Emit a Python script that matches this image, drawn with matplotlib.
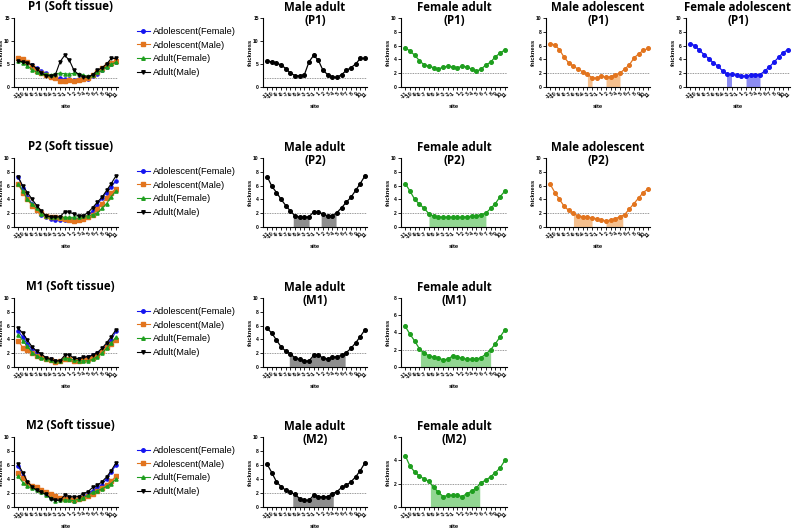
import numpy as np
import matplotlib
matplotlib.use("Agg")
import matplotlib.pyplot as plt

# ---------------- data ----------------
sites = [str(v) for v in list(range(-11, 0)) + list(range(1, 12))]

p1_adult_male = [5.6, 5.5, 5.2, 4.8, 4.0, 3.0, 2.5, 2.4, 2.7, 5.5, 6.9, 5.8, 3.6, 2.7, 2.2, 2.1, 2.7, 3.6, 4.2, 5.0, 6.2, 6.2]
p1_adult_female = [5.7, 5.2, 4.6, 3.8, 3.2, 3.0, 2.8, 2.6, 2.9, 3.0, 2.9, 2.8, 3.0, 2.9, 2.6, 2.3, 2.6, 3.2, 3.6, 4.4, 4.9, 5.4]
p1_adol_male = [6.3, 6.1, 5.4, 4.3, 3.5, 3.0, 2.6, 2.2, 1.9, 1.3, 1.3, 1.6, 1.4, 1.5, 1.8, 2.0, 2.6, 3.2, 4.2, 4.8, 5.3, 5.6]
p1_adol_female = [6.3, 6.0, 5.3, 4.7, 4.1, 3.5, 3.0, 2.3, 1.85, 1.85, 1.7, 1.65, 1.55, 1.75, 1.8, 1.8, 2.3, 2.9, 3.6, 4.3, 5.0, 5.4]

p2_adult_male = [7.3, 5.9, 5.0, 4.0, 3.1, 2.3, 1.6, 1.45, 1.4, 1.5, 2.2, 2.15, 1.9, 1.6, 1.65, 2.1, 2.8, 3.6, 4.3, 5.3, 6.3, 7.4]
p2_adult_female = [6.3, 5.2, 4.0, 3.3, 2.7, 1.9, 1.55, 1.5, 1.4, 1.45, 1.4, 1.4, 1.4, 1.5, 1.55, 1.6, 1.8, 2.0, 2.7, 3.4, 4.4, 5.2]
p2_adol_male = [6.2, 5.0, 4.0, 3.0, 2.4, 2.0, 1.6, 1.5, 1.5, 1.3, 1.2, 1.0, 0.9, 1.0, 1.2, 1.5, 1.8, 2.6, 3.4, 4.2, 5.0, 5.5]
p2_adol_female = [7.2, 5.7, 4.4, 3.3, 2.5, 1.8, 1.4, 1.2, 1.0, 1.0, 1.0, 1.1, 1.1, 1.2, 1.4, 1.6, 2.3, 3.2, 4.2, 5.0, 5.8, 6.7]

m1_adult_male = [5.6, 4.9, 3.9, 2.9, 2.3, 1.9, 1.3, 1.1, 0.85, 0.9, 1.7, 1.8, 1.25, 1.2, 1.4, 1.5, 1.7, 2.1, 2.7, 3.5, 4.4, 5.4]
m1_adult_female = [4.7, 3.8, 3.0, 2.1, 1.6, 1.3, 1.15, 1.0, 0.85, 0.9, 1.3, 1.2, 1.0, 0.9, 0.9, 0.9, 1.1, 1.5, 2.0, 2.7, 3.5, 4.3]
m1_adol_male = [3.8, 2.8, 2.4, 2.0, 1.6, 1.4, 1.2, 1.0, 0.7, 0.9, 1.2, 1.1, 0.8, 0.9, 1.0, 1.1, 1.3, 1.8, 2.3, 2.9, 3.4, 3.9]
m1_adol_female = [5.2, 4.3, 3.3, 2.6, 2.0, 1.6, 1.3, 1.1, 0.9, 0.9, 1.2, 1.2, 1.0, 1.1, 1.3, 1.5, 1.7, 2.0, 2.5, 3.2, 3.9, 5.2]

m2_adult_male = [6.1, 4.9, 3.6, 2.9, 2.4, 2.1, 1.8, 1.2, 0.95, 0.95, 1.7, 1.5, 1.4, 1.5, 1.9, 2.2, 2.8, 3.1, 3.6, 4.3, 5.2, 6.3]
m2_adult_female = [4.4, 3.5, 3.0, 2.65, 2.4, 2.2, 1.7, 1.25, 0.9, 1.0, 1.0, 1.0, 0.9, 1.15, 1.35, 1.65, 2.1, 2.3, 2.6, 2.95, 3.35, 4.0]
m2_adol_male = [4.8, 4.2, 3.5, 3.0, 2.8, 2.5, 2.2, 1.9, 1.6, 1.3, 1.2, 1.1, 1.0, 1.1, 1.3, 1.6, 1.9, 2.3, 2.7, 3.2, 3.7, 4.4]
m2_adol_female = [5.9, 4.5, 3.5, 3.0, 2.6, 2.3, 1.8, 1.3, 1.1, 1.2, 1.3, 1.1, 0.8, 1.2, 1.5, 1.9, 2.3, 2.8, 3.2, 4.0, 5.0, 6.0]

# highlighted site ranges (in site-index units)
fill_p1_adol_male = [(8, 9), (12, 15)]
fill_p1_adol_female = [(8, 9), (12, 15)]
fill_p2_adult_male = [(5.6, 9), (11.6, 14.8)]
fill_p2_adult_female = [(5, 17)]
fill_p2_adol_male = [(5, 9), (12, 15.6)]
fill_m1_adult_male = [(4.75, 16.75)]
fill_m1_adult_female = [(3.2, 18)]
fill_m2_adult_male = [(5.5, 14.2)]
fill_m2_adult_female = [(5.3, 15.7)]

threshold = 2

# ---------------- style ----------------
W, H = 797, 528
fig = plt.figure(figsize=(W / 100, H / 100), dpi=100)

C_BLUE = "#1414F0"
C_ORANGE = "#E2741E"
C_GREEN = "#1E9E1E"
C_BLACK = "#000000"
F_BLUE = "#8C8CF2"
F_ORANGE = "#F5C08E"
F_GREEN = "#92D692"
F_BLACK = "#8E8E8E"

TITLE_FONT = "Open Sans"
TEXT_FONT = "Liberation Sans"

col_x = [(14, 118), (263, 367), (401, 507), (546, 650), (686, 790)]
row_y = [(18, 87), (158, 227), (298, 367), (437, 507)]

n = len(sites)
x = np.arange(n)


def make_ax(col, row):
    x0, x1 = col_x[col]
    y0, y1 = row_y[row]
    ax = fig.add_axes([x0 / W, 1 - y1 / H, (x1 - x0) / W, (y1 - y0) / H])
    ax._px_width = x1 - x0
    return ax


def style_ax(ax, ymax, ystep):
    ax.set_xlim(-0.9, n - 1 + 0.45)
    ax.set_ylim(0, ymax)
    ticks = np.arange(0, ymax + 0.01, ystep)
    ax.set_yticks(ticks)
    ax.set_yticklabels([f"{int(v)}" for v in ticks],
                       fontsize=3.6, fontweight="bold", family=TEXT_FONT)
    ax.set_xticks(x)
    ax.set_xticklabels(sites, rotation=45, ha="right", rotation_mode="anchor",
                       fontsize=3.8, fontweight="bold", family=TEXT_FONT)
    for s in ["top", "right"]:
        ax.spines[s].set_visible(False)
    for s in ["left", "bottom"]:
        ax.spines[s].set_linewidth(0.8)
    ax.tick_params(axis="both", length=2, width=0.6, pad=1)
    ax.set_ylabel("thickness", fontsize=4.2, fontweight="bold", family=TEXT_FONT)
    ax.yaxis.set_label_coords(-10.0 / ax._px_width, 0.5)
    ax.set_xlabel("site", fontsize=4.2, fontweight="bold", family=TEXT_FONT, labelpad=3)
    ax.axhline(threshold, color="#777777", lw=0.6, ls=(0, (1, 1)), zorder=1)


def shade(ax, y, spans, color):
    y = np.asarray(y, dtype=float)
    for a, b in spans:
        xs = np.linspace(a, b, 60)
        ys = np.interp(xs, x, y)
        ax.fill_between(xs, 0, ys, color=color, lw=0, zorder=2)


def single(col, row, y, color, fcolor, spans, ymax, ystep, title):
    ax = make_ax(col, row)
    style_ax(ax, ymax, ystep)
    if spans:
        shade(ax, y, spans, fcolor)
    ax.plot(x, y, color=color, lw=0.9, marker="o", ms=2.6, zorder=3)
    ax.text(0.5, 1.055, title, transform=ax.transAxes, ha="center", va="center",
            fontsize=8.3, fontweight="bold", family=TITLE_FONT, linespacing=1.05)
    return ax


def combined(row, af, am, df, dm, ymax, ystep, title):
    ax = make_ax(0, row)
    style_ax(ax, ymax, ystep)
    ax.plot(x, af, color=C_BLUE, lw=0.8, marker="o", ms=2.3, zorder=3, label="Adolescent(Female)")
    ax.plot(x, am, color=C_ORANGE, lw=0.8, marker="s", ms=2.3, zorder=3, label="Adolescent(Male)")
    ax.plot(x, df, color=C_GREEN, lw=0.8, marker="^", ms=2.3, zorder=3, label="Adult(Female)")
    ax.plot(x, dm, color=C_BLACK, lw=0.8, marker="v", ms=2.3, zorder=4, label="Adult(Male)")
    ax.text(0.54, 1.17, title, transform=ax.transAxes, ha="center", va="center",
            fontsize=8.3, fontweight="bold", family=TITLE_FONT)
    ax.legend(loc="upper left", bbox_to_anchor=(1.18, 0.87), frameon=False,
              prop={"family": TEXT_FONT, "size": 6.7},
              handlelength=1.4, handletextpad=0.3, labelspacing=0.5,
              borderaxespad=0, borderpad=0, markerscale=1.1)
    return ax


# Row 1 : P1
combined(0, p1_adol_female, p1_adol_male, p1_adult_female, p1_adult_male, 15, 5, "P1 (Soft tissue)")
single(1, 0, p1_adult_male, C_BLACK, F_BLACK, [], 15, 5, "Male adult\n(P1)")
single(2, 0, p1_adult_female, C_GREEN, F_GREEN, [], 10, 2, "Female adult\n(P1)")
single(3, 0, p1_adol_male, C_ORANGE, F_ORANGE, fill_p1_adol_male, 10, 2, "Male adolescent\n(P1)")
single(4, 0, p1_adol_female, C_BLUE, F_BLUE, fill_p1_adol_female, 10, 2, "Female adolescent\n(P1)")

# Row 2 : P2
combined(1, p2_adol_female, p2_adol_male, p2_adult_female, p2_adult_male, 10, 2, "P2 (Soft tissue)")
single(1, 1, p2_adult_male, C_BLACK, F_BLACK, fill_p2_adult_male, 10, 2, "Male adult\n(P2)")
single(2, 1, p2_adult_female, C_GREEN, F_GREEN, fill_p2_adult_female, 10, 2, "Female adult\n(P2)")
single(3, 1, p2_adol_male, C_ORANGE, F_ORANGE, fill_p2_adol_male, 10, 2, "Male adolescent\n(P2)")

# Row 3 : M1
combined(2, m1_adol_female, m1_adol_male, m1_adult_female, m1_adult_male, 10, 2, "M1 (Soft tissue)")
single(1, 2, m1_adult_male, C_BLACK, F_BLACK, fill_m1_adult_male, 10, 2, "Male adult\n(M1)")
single(2, 2, m1_adult_female, C_GREEN, F_GREEN, fill_m1_adult_female, 8, 2, "Female adult\n(M1)")

# Row 4 : M2
combined(3, m2_adol_female, m2_adol_male, m2_adult_female, m2_adult_male, 10, 2, "M2 (Soft tissue)")
single(1, 3, m2_adult_male, C_BLACK, F_BLACK, fill_m2_adult_male, 10, 2, "Male adult\n(M2)")
single(2, 3, m2_adult_female, C_GREEN, F_GREEN, fill_m2_adult_female, 6, 2, "Female adult\n(M2)")

fig.savefig("out.png", dpi=100)
